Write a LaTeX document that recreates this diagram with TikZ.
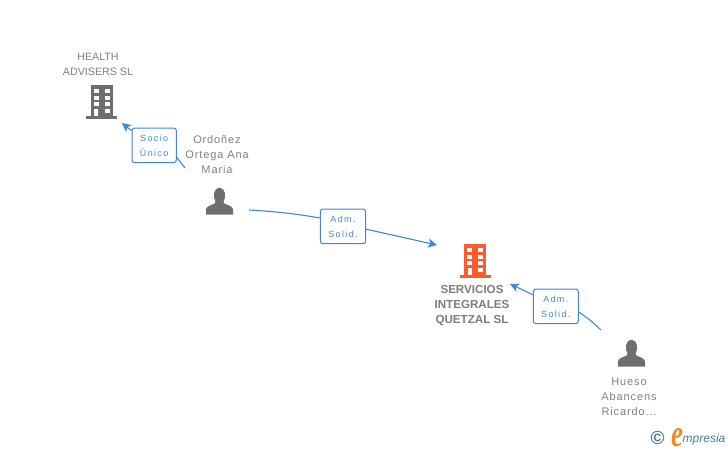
\documentclass[tikz,border=0pt]{standalone}
\usepackage{graphicx}
\usepackage{fontspec}
\setmainfont{Liberation Sans}
\newfontfamily\spacedfont[LetterSpace=8]{Liberation Sans}
\newfontfamily\boxfont[LetterSpace=15]{Liberation Sans}
\newfontfamily\logoserif{Liberation Serif}
\usetikzlibrary{arrows.meta}
\definecolor{iconGray}{HTML}{6E6E6E}
\definecolor{iconOrange}{HTML}{FF5A2D}
\definecolor{linkBlue}{HTML}{3F85E0}
\definecolor{textGray}{HTML}{808080}
\definecolor{logoTeal}{HTML}{3F7F93}
\definecolor{logoOrange}{HTML}{F08A1D}
\tikzset{
  pics/buildingicon/.style={code={
    \fill[#1] (-15.5,0) rectangle (15.5,-2.7);
    \fill[#1] (-11,0) rectangle (11,-33.5);
    \foreach \rowy in {-29.5,-23,-16.5} {
      \fill[white] (-8,\rowy) rectangle (-3,\rowy+4);
      \fill[white] (3,\rowy) rectangle (8,\rowy+4);
    }
    \fill[white] (3,-10) rectangle (8,-6);
    \fill[white] (-7.5,-2.7) rectangle (-3.5,-10);
  }},
  pics/personicon/.style={code={
    \fill[iconGray] (-13.5,0) -- (-13.5,-5) .. controls (-13.5,-8) and (-10,-9) .. (-5,-11)
      -- (-4,-13) .. controls (-7,-18) and (-6,-27) .. (0,-27)
      .. controls (6,-27) and (7,-18) .. (4,-13) -- (5,-11)
      .. controls (10,-9) and (13.5,-8) .. (13.5,-5) -- (13.5,0) -- cycle;
  }},
  namelabel/.style={inner sep=0pt, align=center, text=textGray},
  linkbox/.style={draw=linkBlue, fill=white, line width=1pt, rounded corners=2.5pt,
    inner sep=0pt, minimum width=#1, minimum height=34.5pt, align=center, text=linkBlue,
    font={\boxfont\fontsize{9}{15}\selectfont}},
  linkline/.style={draw=linkBlue, line width=1.1pt},
  linkarrow/.style={linkline, -{Stealth[length=9pt,width=9pt,inset=2.5pt]}}
}
\begin{document}
\begin{tikzpicture}[x=1pt,y=-1pt]
\useasboundingbox (0,0) rectangle (728,450);
% icons
\pic at (101.5,118.7) {buildingicon=iconGray};
\pic at (475,277.7) {buildingicon=iconOrange};
\pic at (219.5,214.7) {personicon};
\pic at (631.5,366.7) {personicon};
% names
\node[namelabel, font={\fontsize{10.7}{15}\selectfont}] (health) at (98,64.3) {HEALTH\\ADVISERS SL};
\node[namelabel, font={\spacedfont\fontsize{11}{15}\selectfont}] (ordonez) at (217,154.4) {Ordoñez\\Ortega Ana\\Maria};
\node[namelabel, font={\bfseries\fontsize{11.6}{15}\selectfont}, text=iconGray!90] (servicios) at (472,306) {SERVICIOS\\INTEGRALES\\QUETZAL SL};
\node[namelabel, font={\spacedfont\fontsize{11}{15}\selectfont}] (hueso) at (629,396.5) {Hueso\\Abancens\\Ricardo...};
% links
\node[linkbox=44.3pt] (socio) at (154.15,145.35) {Socio\\Único};
\node[linkbox=45.4pt] (admone) at (343,226.35) {Adm.\\Solid.};
\node[linkbox=45pt] (admtwo) at (555.8,306.35) {Adm.\\Solid.};
\coordinate (sociotail) at (185,168);
\coordinate (sociotip) at (122,123);
\coordinate (admonetail) at (249,210);
\coordinate (admonetip) at (437,245);
\coordinate (admtwotail) at (601,330);
\coordinate (admtwotip) at (510,284);
\draw[linkline] (sociotail) -- (socio.332);
\draw[linkarrow] (socio.147) -- (sociotip);
\draw[linkline] (admonetail) to[bend left=3] (admone.160);
\draw[linkarrow] (admone.353) -- (admonetip);
\draw[linkline] (admtwotail) to[bend right=5] (admtwo.346);
\draw[linkarrow] (admtwo.153) -- (admtwotip);
% logo
\node[inner sep=0pt, text=logoTeal, font=\bfseries\fontsize{19}{19}\selectfont] (copyr) at (657.5,438) {©};
\node[inner sep=0pt, text=logoOrange, font={\logoserif\itshape\bfseries\fontsize{24}{24}\selectfont}] (logoe) at (677.5,437.5) {\resizebox{12pt}{18pt}{e}};
\node[inner sep=0pt, anchor=west, text=logoTeal, font={\itshape\fontsize{12}{12}\selectfont}] (logotext) at (682.5,439) {mpresia};
\end{tikzpicture}
\end{document}
